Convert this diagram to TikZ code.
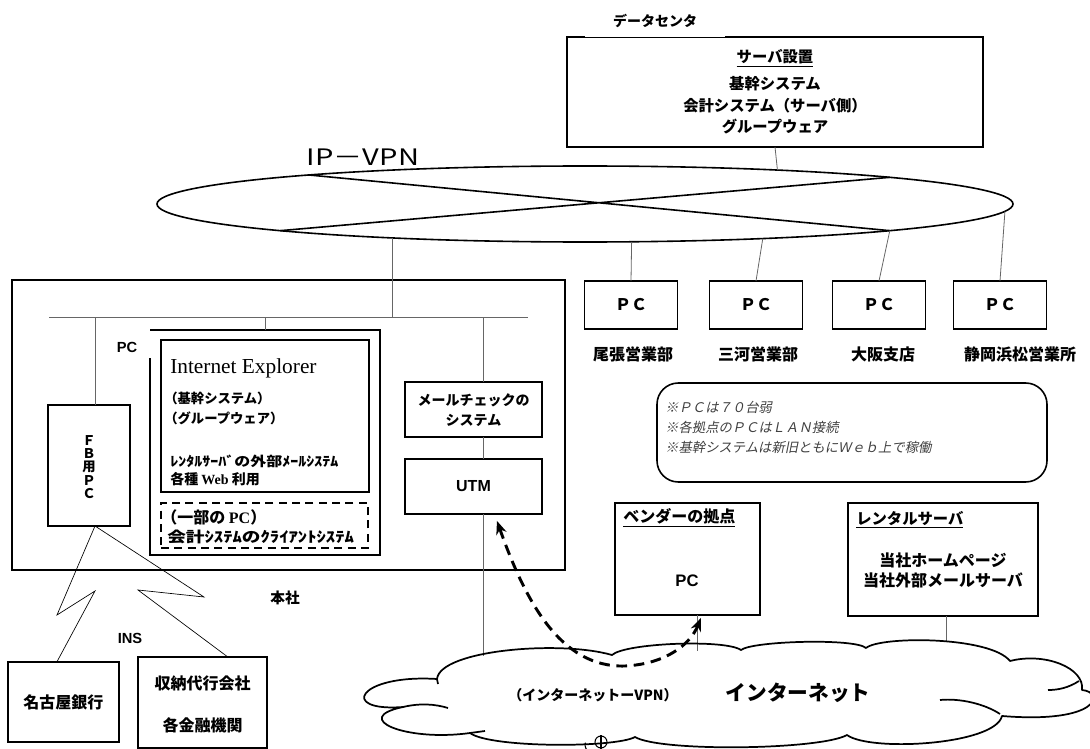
\documentclass[tikz,border=0pt]{standalone}
\usepackage{fontspec}
\usepackage{graphicx}
\usetikzlibrary{shapes.geometric,arrows.meta}
\setmainfont{Liberation Serif}
\setsansfont{Liberation Sans}
\newfontfamily\jp{Noto Sans CJK JP}
\newfontfamily\jpsl{Noto Sans CJK JP}[FakeSlant=0.2]
\newcommand\jfont[2]{\jp\bfseries\fontsize{#1}{#2}\selectfont}
\newcommand\fitw[2]{\resizebox{#1}{\height}{#2}}

\begin{document}
\begin{tikzpicture}[x=0.75pt,y=-0.75pt,
  bx/.style={draw, line width=1.5pt, inner sep=0pt, outer sep=0pt},
  sz/.style 2 args={minimum width=#1*0.75pt, minimum height=#2*0.75pt},
  wire/.style={draw=black!60, line width=0.6pt},
  jt/.style={font={\jfont{#1}{#1}}, inner sep=0pt},
  lat/.style={font={\sffamily\bfseries\fontsize{#1}{#1}\selectfont}, inner sep=0pt},
  cloudline/.style={line width=1.3pt, line join=round}]
\useasboundingbox (0,0) rectangle (1090,749);

% ---------- data centre ----------
\node[jt=10.5] (dclab) at (655,21) {データセンタ};
\node[bx, sz={416}{110}] (dc) at (775,92) {};
\draw[white, line width=2pt] (585,37) -- (725,37);
\draw[line width=0.5pt] (585,37) -- (725,37);
\node[jt=11.5] (dct) at (775,58) {\underline{サーバ設置}};
\node[jt=11.5] (dc1) at (775,84) {基幹システム};
\node[jt=11.5] (dc2) at (775,106) {会計システム（サーバ側）};
\node[jt=11.5] (dc3) at (775,127) {グループウェア};

% ---------- IP-VPN ----------
\node[font={\jp\fontsize{17}{17}\selectfont}, inner sep=0pt] (iplab) at (363,157) {\fitw{84pt}{IP－VPN}};
\node[draw, ellipse, line width=1.2pt, sz={856}{76}, inner sep=0pt, outer sep=0pt] (vpn) at (585,204) {};
\draw[line width=1.2pt] (vpn.174.87) -- (vpn.-5.13) (vpn.185.13) -- (vpn.5.13);
\draw[wire] (dc.south) -- (vpn.10.16);

% ---------- branch offices ----------
\foreach \n/\x in {1/631,2/756,3/879,4/1000}
  \node[bx, line width=1.2pt, sz={93}{48}, jt=12] (pc\n) at (\x,305) {ＰＣ};
\draw[wire] (vpn.-39.4) -- (pc1.north);
\draw[wire] (vpn.-11.5) -- (pc2.north);
\draw[wire] (vpn.-5.37) -- (pc3.north);
\draw[wire] (vpn.-1.28) -- (pc4.north);
\node[jt=12] (l1) at (633,354) {尾張営業部};
\node[jt=12] (l2) at (758,354) {三河営業部};
\node[jt=12] (l3) at (883,354) {大阪支店};
\node[jt=12] (l4) at (1020,354) {静岡浜松営業所};

% ---------- notes ----------
\node[draw, line width=1.2pt, rounded corners=16pt, sz={390}{99}] (notes) at (852,432.5) {};
\node[font={\jpsl\fontsize{10}{15}\selectfont}, text=black!75, align=left, anchor=west, inner sep=0pt] (nt) at (665,427)
  {※ＰＣは７０台弱\\※各拠点のＰＣはＬＡＮ接続\\※基幹システムは新旧ともにＷｅｂ上で稼働};

% ---------- head office ----------
\node[bx, sz={553}{290}] (hq) at (288.5,425) {};
\coordinate (lanL) at (49,317);
\coordinate (lanR) at (528,317);
\draw[wire] (lanL) -- (lanR);
\draw[wire] (vpn.190.77) -- (vpn.190.77 |- lanL);

% FB terminal
\coordinate (fbtap) at (95,317);
\node[bx, sz={82}{121}] (fb) at (89,465.5) {};
\node[font={\jfont{10}{10}}, align=center, inner sep=0pt] (fbt) at (89,467) {Ｆ\\Ｂ\\用\\Ｐ\\Ｃ};
\draw[wire] (fbtap) -- (fbtap |- fb.north);

% office PCs
\node[lat=11] (pclab) at (127,347) {PC};
\node[sz={230}{225}, inner sep=0pt, outer sep=0pt] (pco) at (265,442.5) {};
\draw[line width=1.5pt] ([yshift=-21pt]pco.north west) -- (pco.south west) -- (pco.south east) -- (pco.north east) -- (pco.north west);
\draw[wire] (pco.north |- lanL) -- (pco.north);
\node[draw, line width=2.2pt, sz={208}{152}, inner sep=0pt] (ie) at (265,416) {};
\node[font={\rmfamily\fontsize{16}{16}\selectfont}, anchor=west, inner sep=0pt] (iet) at (170,368) {Internet Explorer};
\node[jt=10, anchor=west] (ie1) at (164,398) {（基幹システム）};
\node[jt=10, anchor=west] (ie2) at (164,418) {（グループウェア）};
\node[jt=10, anchor=west] (ie3) at (170,461) {\fitw{126pt}{ﾚﾝﾀﾙｻｰﾊﾞの外部ﾒｰﾙｼｽﾃﾑ}};
\node[jt=10.5, anchor=west] (ie4) at (170,479) {各種 {\rmfamily\bfseries Web} 利用};
\node[draw, line width=1.5pt, dash pattern=on 6pt off 4pt, sz={207}{45}, inner sep=0pt] (cl) at (264.5,525.5) {};
\node[jt=12, anchor=west] (cl1) at (161,517) {（一部の {\rmfamily\bfseries PC}）};
\node[jt=11, anchor=west] (cl2) at (167,537) {\fitw{140pt}{会計ｼｽﾃﾑのｸﾗｲｱﾝﾄｼｽﾃﾑ}};

% mail check and UTM
\node[bx, line width=1.2pt, sz={137}{55}] (mail) at (473.5,409.5) {};
\node[font={\jfont{10.5}{15}}, align=center, inner sep=0pt] (mailt) at (473.5,410) {メールチェックの\\システム};
\node[bx, line width=1.2pt, sz={137}{55}, lat=12] (utm) at (473.5,486.5) {UTM};
\coordinate (tap) at (483,317);
\coordinate (ctap) at (483,656);
\draw[wire] (tap) -- (tap |- mail.north);
\draw[wire] (tap |- mail.south) -- (tap |- utm.north);
\draw[wire] (tap |- utm.south) -- (ctap);

\node[jt=11] (honsha) at (285,598) {本社};
\node[lat=11] (ins) at (130,638) {INS};

% ---------- banks via INS ----------
\node[bx, sz={111}{80}, jt=12] (nagoya) at (63.5,702) {名古屋銀行};
\node[bx, sz={129}{91}] (shuno) at (202.5,702.5) {};
\node[jt=12] (s1) at (202.5,683) {収納代行会社};
\node[jt=12] (s2) at (202.5,725) {各金融機関};
\draw[line width=0.5pt] (fb.south -| fbtap) -- (57,615) -- (95,591) -- ([xshift=-5pt]nagoya.north);
\draw[line width=0.5pt] (fb.south -| fbtap) -- (204,597) -- (138,590) -- ([xshift=19pt]shuno.north);

% ---------- vendor and rental server ----------
\node[bx, sz={145}{112}] (vendor) at (687.5,559) {};
\node[jt=12, anchor=west] (vt) at (623,518) {\underline{ベンダーの拠点}};
\node[lat=12.5] (vpc) at (687,581) {PC};
\node[bx, sz={190}{113}] (rental) at (943,559.5) {};
\node[jt=11.5, anchor=west] (rt) at (856,520) {\underline{レンタルサーバ}};
\node[jt=12] (r1) at (943,560) {当社ホームページ};
\node[jt=12] (r2) at (943,580) {当社外部メールサーバ};
\coordinate (vtap) at (697,651);
\coordinate (rtap) at (946,642);
\draw[wire] (vtap |- vendor.south) -- (vtap);
\draw[wire] (rental.south -| rtap) -- (rtap);

% ---------- internet cloud ----------
\draw[cloudline] (403,707)
  .. controls (338,712) and (358,674) .. (437,679)
  .. controls (440,650) and (560,640) .. (612,655)
  .. controls (625,643) and (725,639) .. (741,650)
  .. controls (752,641) and (855,638) .. (866,648)
  .. controls (880,636) and (990,636) .. (1010,661)
  .. controls (1045,652) and (1085,668) .. (1082,690)
  .. controls (1105,692) and (1100,724) .. (1002,716)
  .. controls (995,745) and (870,752) .. (847,735)
  .. controls (820,750) and (660,752) .. (635,737)
  .. controls (615,748) and (490,748) .. (470,733)
  .. controls (405,742) and (350,718) .. cycle;
\draw[cloudline] (403,707) .. controls (420,703) and (435,704) .. (448,708);
\draw[cloudline] (437,679) -- (438,684);
\draw[cloudline] (1079,681) .. controls (1068,688) and (1058,690) .. (1048,690);
\draw[cloudline] (1000,714) .. controls (985,704) and (960,698) .. (940,700);
\draw[cloudline] (470,733) -- (485,731);
\draw[line width=0.8pt] (592,745) ++(90:7) arc (90:200:7);
\draw[line width=0.8pt] (601,742) circle (6);
\draw[line width=0.8pt] (601,735) -- (601,749);
\node[jt=10.5] (inetvpn) at (593,695) {（インターネットーVPN）};
\node[jt=15.5] (inet) at (798,693) {インターネット};

% ---------- remote maintenance path ----------
\draw[line width=2.2pt, dash pattern=on 8pt off 5pt, {Stealth[length=10pt,width=8pt]}-{Stealth[length=10pt,width=8pt]}]
  ([xshift=17.6pt,yshift=-5.2pt]utm.south) .. controls (525,600) and (560,668) .. (625,666)
  .. controls (665,664) and (690,645) .. ([xshift=10.1pt,yshift=-2.2pt]vendor.south);
\end{tikzpicture}
\end{document}
